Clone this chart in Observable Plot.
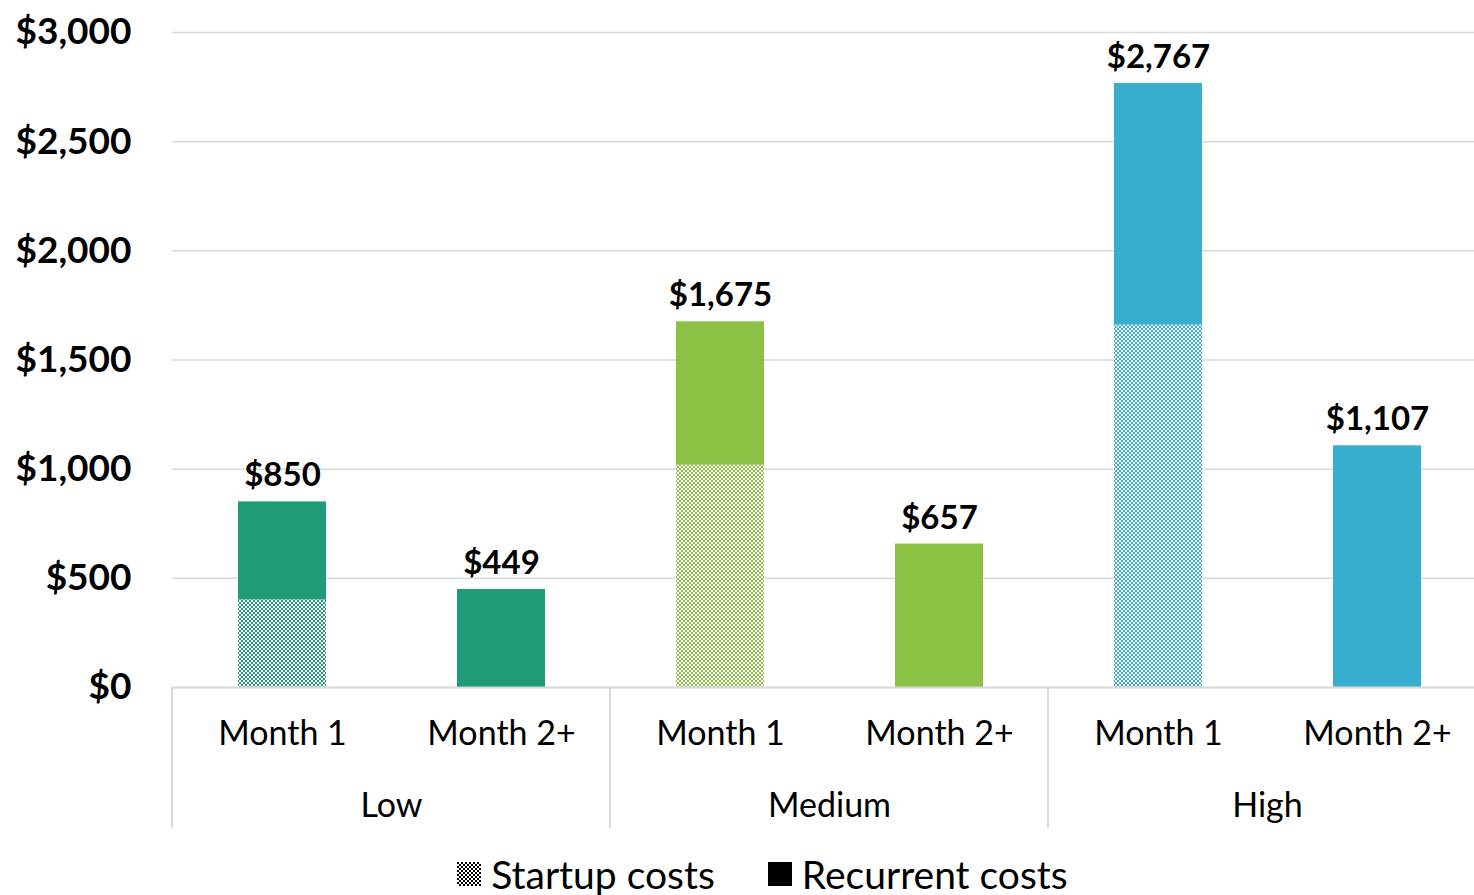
<!DOCTYPE html>
<html>
<head>
<meta charset="utf-8">
<script src="https://cdn.jsdelivr.net/npm/d3@7"></script>
<script src="https://cdn.jsdelivr.net/npm/@observablehq/plot@0.6"></script>
<style>
  body { margin: 0; background: #fff; font-family: Lato, "Noto Sans", sans-serif; overflow: hidden; width: 1474px; }
  #chart { width: 1474px; overflow: hidden; height: 845px; }
  #legend { width: 1474px; display: flex; justify-content: center; align-items: center; gap: 53px; height: 50px; font-size: 39px; color: #000; padding-left: 51px; box-sizing: border-box; margin-top: 4px; }
  .item { display: flex; align-items: center; gap: 10px; }
  .sw { width: 24px; height: 24px; display: inline-block; }
</style>
</head>
<body>
<div id="chart"></div>
<div id="legend">
  <span class="item"><svg class="sw" width="24" height="24"><defs><pattern id="pat-legend" width="4" height="4" patternUnits="userSpaceOnUse"><rect width="4" height="4" fill="#fff"/><rect width="2" height="2" fill="#000"/><rect x="2" y="2" width="2" height="2" fill="#000"/></pattern></defs><rect width="24" height="24" fill="url(#pat-legend)"/></svg>Startup costs</span>
  <span class="item"><span class="sw" style="background:#000"></span>Recurrent costs</span>
</div>
<script>
const groups = ["Low", "Medium", "High"];
const months = ["Month 1", "Month 2+"];
const month1Total = [850, 1675, 2767];
const month2Total = [449, 657, 1107];
const yTicks = [0, 500, 1000, 1500, 2000, 2500, 3000];

const groupColor = {Low: "#1f9b78", Medium: "#8bc145", High: "#38aecf"};

// stacked segments: Month 1 = startup (total - recurrent) + recurrent; Month 2+ = recurrent
const segments = [];
groups.forEach((g, i) => {
  segments.push({group: g, month: "Month 1", type: "Startup costs", value: month1Total[i] - month2Total[i]});
  segments.push({group: g, month: "Month 1", type: "Recurrent costs", value: month2Total[i]});
  segments.push({group: g, month: "Month 2+", type: "Recurrent costs", value: month2Total[i]});
});
const totals = [];
groups.forEach((g, i) => {
  totals.push({group: g, month: "Month 1", value: month1Total[i]});
  totals.push({group: g, month: "Month 2+", value: month2Total[i]});
});

const fillOf = d => d.type === "Startup costs" ? `url(#pat-${d.group})` : groupColor[d.group];

const font = "Lato, 'Noto Sans', sans-serif";

const chart = Plot.plot({
  width: 1487,
  height: 845,
  marginLeft: 171,
  marginRight: 0,
  marginTop: 32,
  marginBottom: 158,
  style: {fontFamily: font, background: "#fff", color: "#000", maxWidth: "none"},
  fx: {domain: groups, padding: 0, label: null},
  x: {domain: months, paddingInner: 0.6, paddingOuter: 0.3, label: null},
  y: {domain: [0, 3000], label: null},
  marks: [
    Plot.gridY(yTicks, {stroke: "#d9d9d9", strokeOpacity: 1, strokeWidth: 1.5}),
    Plot.barY(segments, {fx: "group", x: "month", y: "value", fill: fillOf, insetLeft: 0, insetRight: 0}),
    Plot.ruleY([0], {stroke: "#d9d9d9", strokeWidth: 2}),
    Plot.text(totals, {fx: "group", x: "month", y: "value", text: d => d3.format("$,")(d.value), dy: -26, fontSize: 33, fontWeight: "bold", fill: "#000"}),
    Plot.axisY({ticks: yTicks, tickFormat: d3.format("$,"), tickSize: 0, tickPadding: 41, fontSize: 37, fontWeight: "bold", label: null}),
    Plot.axisX({tickSize: 0, tickPadding: 33, fontSize: 34, label: null}),
    Plot.axisFx({anchor: "bottom", tickSize: 0, tickPadding: 105, fontSize: 34, label: null})
  ]
});
chart.style.maxWidth = "none";
chart.style.width = "1487px";
chart.style.height = "845px";

// checkerboard patterns for startup costs
const svg = d3.select(chart);
const defs = svg.insert("defs", ":first-child");
groups.forEach(g => {
  const p = defs.append("pattern").attr("id", `pat-${g}`).attr("width", 4).attr("height", 4).attr("patternUnits", "userSpaceOnUse");
  p.append("rect").attr("width", 4).attr("height", 4).attr("fill", "#fff");
  p.append("rect").attr("width", 2).attr("height", 2).attr("fill", groupColor[g]);
  p.append("rect").attr("x", 2).attr("y", 2).attr("width", 2).attr("height", 2).attr("fill", groupColor[g]);
});

// group separators below the baseline, positioned from the fx scale
const fx = chart.scale("fx");
const y0 = chart.scale("y").apply(0);
const edges = groups.map(g => fx.apply(g));
svg.append("g").selectAll("line").data(edges).join("line")
  .attr("x1", d => d).attr("x2", d => d)
  .attr("y1", y0).attr("y2", y0 + 141)
  .attr("stroke", "#d9d9d9").attr("stroke-width", 2);

document.getElementById("chart").appendChild(chart);
</script>
</body>
</html>
